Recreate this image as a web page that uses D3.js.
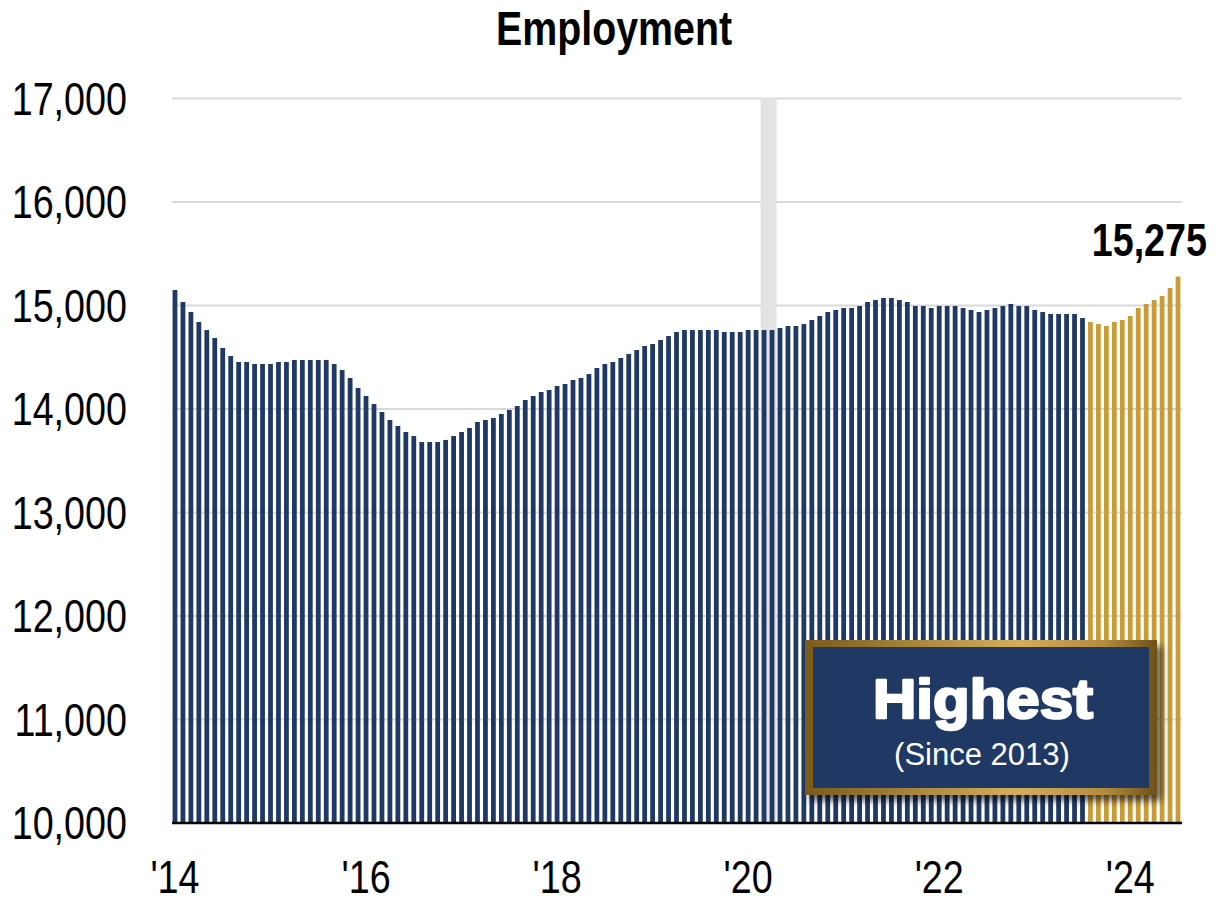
<!DOCTYPE html>
<html><head><meta charset="utf-8">
<script src="https://cdn.jsdelivr.net/npm/d3@7/dist/d3.min.js"></script>
<style>html,body{margin:0;padding:0;background:#fff;}svg{display:block;}</style>
</head><body>
<script>
// ---- data ----
const startYear = 2014;
const yearTicks = ["'14", "'16", "'18", "'20", "'22", "'24"];
const yTicks = [10000, 11000, 12000, 13000, 14000, 15000, 16000, 17000];
const employment = [
 15145,15029,14932,14836,14758,14681,14585,14507,14449,14449,14430,14430,
 14430,14449,14449,14469,14469,14469,14469,14469,14430,14372,14295,14198,
 14121,14043,13966,13889,13831,13773,13734,13676,13676,13676,13696,13734,
 13773,13811,13870,13889,13908,13947,13986,14024,14082,14121,14159,14179,
 14217,14237,14275,14295,14333,14391,14430,14449,14488,14527,14565,14604,
 14623,14662,14700,14739,14758,14758,14758,14758,14758,14739,14739,14739,
 14758,14758,14758,14758,14778,14797,14797,14816,14855,14894,14932,14952,
 14971,14971,14990,15029,15048,15068,15068,15048,15029,14990,14990,14971,
 14990,14990,14990,14971,14952,14932,14952,14971,14990,15010,14990,14990,
 14952,14932,14913,14913,14913,14913,14874,14836,14816,14797,14836,14855,
 14894,14971,15010,15048,15087,15164,15275
];
const highlightCount = 12;          // last 12 months in gold
const recessionMonths = ["2020-03", "2020-04"];
const labelText = "15,275";
const boxTitle = "Highest";
const boxSub = "(Since 2013)";
const chartTitle = "Employment";

const months = employment.map((d, i) => {
  const y = startYear + Math.floor(i / 12), m = i % 12 + 1;
  return y + "-" + String(m).padStart(2, "0");
});

// ---- font check ----
const ctx = document.createElement("canvas").getContext("2d");
ctx.font = "46px 'Liberation Sans Narrow', monospace";
const wa = ctx.measureText("17,000 Employment").width;
ctx.font = "46px monospace";
const wb = ctx.measureText("17,000 Employment").width;
const hasNarrow = Math.abs(wa - wb) > 1;
const FAM = hasNarrow ? "'Liberation Sans Narrow', 'Arial Narrow', sans-serif" : "'Liberation Sans', Arial, sans-serif";
const SX = hasNarrow ? 1 : 0.82;

const W = 1217, H = 903;
const BLUE = "#1F3864", GOLD = "#C99C39";
const svg = d3.select("body").append("svg").attr("width", W).attr("height", H);

const x = d3.scaleBand().domain(months).range([171, 1182]).paddingInner(0.4).paddingOuter(0.2);
const y = d3.scaleLinear().domain([10000, 17000]).range([822.5, 98]);
const step = x.step(), bw = x.bandwidth();

function txt(parent, px, py, s, o) {
  const g = parent.append("g").attr("transform", `translate(${px},${py}) scale(${SX},1)`);
  return g.append("text").attr("text-anchor", o.anchor || "middle")
    .style("font-family", FAM).style("font-size", o.size + "px")
    .style("font-weight", o.weight || "normal").attr("fill", o.fill || "#000").text(s);
}

// gridlines + y labels
const yAxis = d3.axisLeft(y).tickValues(yTicks).tickFormat(d3.format(",")).tickSize(-(1182 - 172)).tickPadding(45);
const gy = svg.append("g").attr("transform", "translate(172,0)").call(yAxis);
gy.select(".domain").remove();
gy.selectAll(".tick line").attr("stroke", "#d9d9d9").attr("stroke-width", 2);
gy.selectAll(".tick text")
  .attr("x", -45 / SX).attr("dy", "0.35em")
  .attr("transform", `scale(${SX},1)`)
  .style("font-family", FAM).style("font-size", "46px").attr("fill", "#000");

// recession shading
const r0 = x(recessionMonths[0]);
svg.append("rect").attr("x", r0 - 1).attr("y", y(17000)).attr("width", step * recessionMonths.length)
  .attr("height", y(10000) - y(17000)).attr("fill", "#e3e3e3");

// bars
const n = employment.length;
svg.append("g").selectAll("rect").data(employment).join("rect")
  .attr("x", (d, i) => x(months[i])).attr("width", bw)
  .attr("y", d => y(d)).attr("height", d => y(10000) - y(d))
  .attr("fill", (d, i) => i >= n - highlightCount ? GOLD : BLUE);

// x axis line
svg.append("line").attr("x1", 172).attr("x2", 1182).attr("y1", 823).attr("y2", 823)
  .attr("stroke", "#000").attr("stroke-width", 2.5);

// x labels
const janMonths = months.filter(m => m.endsWith("-01") && (+m.slice(0, 4) - startYear) % 2 === 0);
const xAxis = d3.axisBottom(x).tickValues(janMonths).tickSize(0).tickFormat((d, i) => yearTicks[i]);
const gx = svg.append("g").attr("transform", "translate(0,823)").call(xAxis);
gx.select(".domain").remove();
gx.selectAll(".tick text").attr("x", 0).attr("y", 70).attr("dy", 0)
  .attr("transform", `scale(${SX},1)`)
  .style("font-family", FAM).style("font-size", "46px").attr("fill", "#000");

// title
txt(svg, 614, 45, chartTitle, { size: 48, weight: "bold" });

// value label
const last = months[n - 1];
txt(svg, x(last) + bw / 2 + 29, y(employment[n - 1]) - 21, labelText, { size: 46, weight: "bold", anchor: "end" });

// highlight box
const defs = svg.append("defs");
const grad = defs.append("linearGradient").attr("id", "frame").attr("x1", "0").attr("x2", "1").attr("y1", "0").attr("y2", "0");
[[0, "#7a5a1c"], [0.3, "#a8843a"], [0.6, "#d4ae5c"], [0.85, "#b48c3e"], [1, "#6e5018"]]
  .forEach(([o, c]) => grad.append("stop").attr("offset", o).attr("stop-color", c));
const f = defs.append("filter").attr("id", "shadow").attr("x", "-10%").attr("y", "-10%").attr("width", "130%").attr("height", "140%");
f.append("feDropShadow").attr("dx", 5).attr("dy", 6).attr("stdDeviation", 3.5)
  .attr("flood-color", "#000").attr("flood-opacity", 0.6);

const bx = 805, by = 640, bW = 352, bH = 155;
const box = svg.append("g");
box.append("rect").attr("x", bx).attr("y", by).attr("width", bW).attr("height", bH)
  .attr("fill", "url(#frame)").attr("filter", "url(#shadow)");
box.append("rect").attr("x", bx + 8).attr("y", by + 7).attr("width", bW - 16).attr("height", bH - 14)
  .attr("fill", BLUE);
box.append("text").attr("x", bx + bW / 2 + 2).attr("y", 718).attr("text-anchor", "middle")
  .style("font-family", "'Liberation Sans', Arial, sans-serif").style("font-size", "56px").style("font-weight", "bold")
  .attr("fill", "#fff").attr("stroke", "#fff").attr("stroke-width", 2.5).attr("stroke-linejoin", "round")
  .attr("textLength", 220).attr("lengthAdjust", "spacingAndGlyphs").text(boxTitle);
box.append("text").attr("x", bx + bW / 2 + 1).attr("y", 765).attr("text-anchor", "middle")
  .style("font-family", "'Liberation Sans', Arial, sans-serif").style("font-size", "31px")
  .attr("fill", "#fff").text(boxSub);
</script>
</body></html>
